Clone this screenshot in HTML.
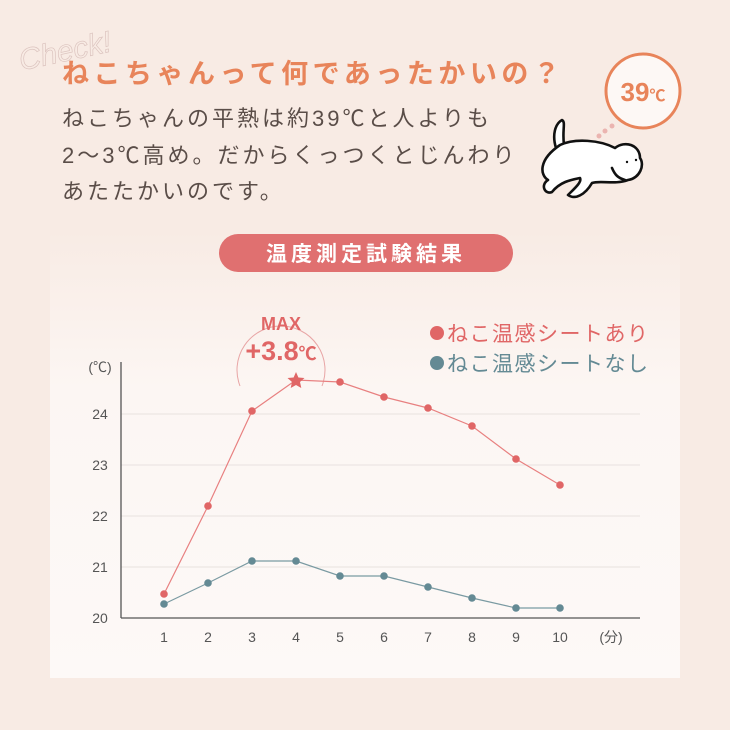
<!DOCTYPE html>
<html><head><meta charset="utf-8"><style>
html,body{margin:0;padding:0;background:#f8ebe4}
svg{display:block}
text{font-family:"Liberation Sans","Noto Sans CJK JP",sans-serif}
</style></head><body>
<svg width="730" height="730" viewBox="0 0 730 730" xmlns="http://www.w3.org/2000/svg">
<defs>
<linearGradient id="g" x1="0" y1="0" x2="0" y2="1">
<stop offset="0" stop-color="#f8ebe4"/><stop offset="0.35" stop-color="#fcf6f3"/><stop offset="1" stop-color="#fdf9f7"/>
</linearGradient>
</defs>
<rect width="730" height="730" fill="#f8ebe4"/>
<rect x="50" y="230" width="630" height="448" fill="url(#g)"/>
<text x="18" y="62" font-family="Liberation Serif,serif" font-style="italic" font-size="30" fill="none" stroke="#dcc4bf" stroke-width="0.7" transform="rotate(-12 60 50)">Check!</text>
<text x="62" y="83" font-size="27" font-weight="bold" fill="#e8845a" letter-spacing="4.5">ねこちゃんって何であったかいの？</text>
<text x="62" y="126" font-size="22" fill="#5a4d48" letter-spacing="3">ねこちゃんの平熱は約39℃と人よりも</text>
<text x="62" y="163" font-size="22" fill="#5a4d48" letter-spacing="3">2〜3℃高め。だからくっつくとじんわり</text>
<text x="62" y="199" font-size="22" fill="#5a4d48" letter-spacing="3">あたたかいのです。</text>
<circle cx="643" cy="91" r="37" fill="#fdf8f5" stroke="#e8845a" stroke-width="3"/>
<text x="643" y="101" text-anchor="middle" font-size="26" font-weight="bold" fill="#e8845a">39<tspan font-size="16">℃</tspan></text>
<circle cx="612" cy="126" r="2.5" fill="#ebb4b0"/><circle cx="605" cy="131" r="2.5" fill="#ebb4b0"/><circle cx="599" cy="136" r="2.5" fill="#ebb4b0"/>
<g stroke="#111" stroke-width="2.6" fill="#fff" stroke-linejoin="round" stroke-linecap="round">
<path d="M556 148 C552 135 555 124 562 120 C566 122 562 130 564 145"/>
<path d="M560 145 C575 138 600 140 615 148 C625 140 640 145 640 158 C645 165 640 178 628 180 C615 185 600 180 592 183 C585 195 575 200 568 195 C575 188 582 182 580 178 C570 180 560 182 552 192 C545 195 540 185 548 180 C540 175 538 160 560 145Z"/>
<path d="M612 168 C615 175 618 178 625 180" fill="none"/>
</g>
<circle cx="627" cy="162" r="1.2" fill="#111"/><circle cx="636" cy="160" r="1.2" fill="#111"/>
<rect x="219" y="234" width="294" height="38" rx="19" fill="#e07070"/>
<text x="366" y="261" text-anchor="middle" font-size="21" font-weight="bold" fill="#fff" letter-spacing="4">温度測定試験結果</text>
<path d="M240 386 A44 44 0 1 1 322 386" fill="none" stroke="#e8a5a5" stroke-width="1"/>
<text x="281" y="330" text-anchor="middle" font-size="18" font-weight="bold" fill="#e06666">MAX</text>
<text x="281" y="360" text-anchor="middle" font-size="27" font-weight="bold" fill="#e06666">+3.8<tspan font-size="18">℃</tspan></text>
<circle cx="437" cy="333" r="7" fill="#e06666"/>
<text x="447" y="341" font-size="21" fill="#e06666" letter-spacing="1.5">ねこ温感シートあり</text>
<circle cx="437" cy="363" r="7" fill="#648a94"/>
<text x="447" y="371" font-size="21" fill="#648a94" letter-spacing="1.5">ねこ温感シートなし</text>
<g stroke="#e8e2df" stroke-width="1">
<line x1="121" y1="414" x2="640" y2="414"/><line x1="121" y1="465" x2="640" y2="465"/>
<line x1="121" y1="516" x2="640" y2="516"/><line x1="121" y1="567" x2="640" y2="567"/>
</g>
<line x1="121" y1="362" x2="121" y2="618" stroke="#555" stroke-width="1.3"/>
<line x1="121" y1="618" x2="640" y2="618" stroke="#555" stroke-width="1.3"/>
<g font-size="14" fill="#555" text-anchor="middle">
<text x="100" y="372">(℃)</text>
<text x="100" y="419">24</text><text x="100" y="470">23</text><text x="100" y="521">22</text><text x="100" y="572">21</text><text x="100" y="623">20</text>
<text x="164" y="642">1</text><text x="208" y="642">2</text><text x="252" y="642">3</text><text x="296" y="642">4</text><text x="340" y="642">5</text><text x="384" y="642">6</text><text x="428" y="642">7</text><text x="472" y="642">8</text><text x="516" y="642">9</text><text x="560" y="642">10</text><text x="611" y="642">(分)</text>
</g>
<polyline points="164,594 208,506 252,411 296,380 340,382 384,397 428,408 472,426 516,459 560,485" fill="none" stroke="#e88080" stroke-width="1.2"/>
<polyline points="164,604 208,583 252,561 296,561 340,576 384,576 428,587 472,598 516,608 560,608" fill="none" stroke="#7a9aa2" stroke-width="1.2"/>
<g fill="#e06666">
<circle cx="164" cy="594" r="3.8"/><circle cx="208" cy="506" r="3.8"/><circle cx="252" cy="411" r="3.8"/><circle cx="340" cy="382" r="3.8"/><circle cx="384" cy="397" r="3.8"/><circle cx="428" cy="408" r="3.8"/><circle cx="472" cy="426" r="3.8"/><circle cx="516" cy="459" r="3.8"/><circle cx="560" cy="485" r="3.8"/>
<polygon points="296,372 298.4,377.5 304.5,378 300,382 301.3,388 296,385 290.7,388 292,382 287.5,378 293.6,377.5"/>
</g>
<g fill="#648a94">
<circle cx="164" cy="604" r="3.8"/><circle cx="208" cy="583" r="3.8"/><circle cx="252" cy="561" r="3.8"/><circle cx="296" cy="561" r="3.8"/><circle cx="340" cy="576" r="3.8"/><circle cx="384" cy="576" r="3.8"/><circle cx="428" cy="587" r="3.8"/><circle cx="472" cy="598" r="3.8"/><circle cx="516" cy="608" r="3.8"/><circle cx="560" cy="608" r="3.8"/>
</g>
</svg>
</body></html>
